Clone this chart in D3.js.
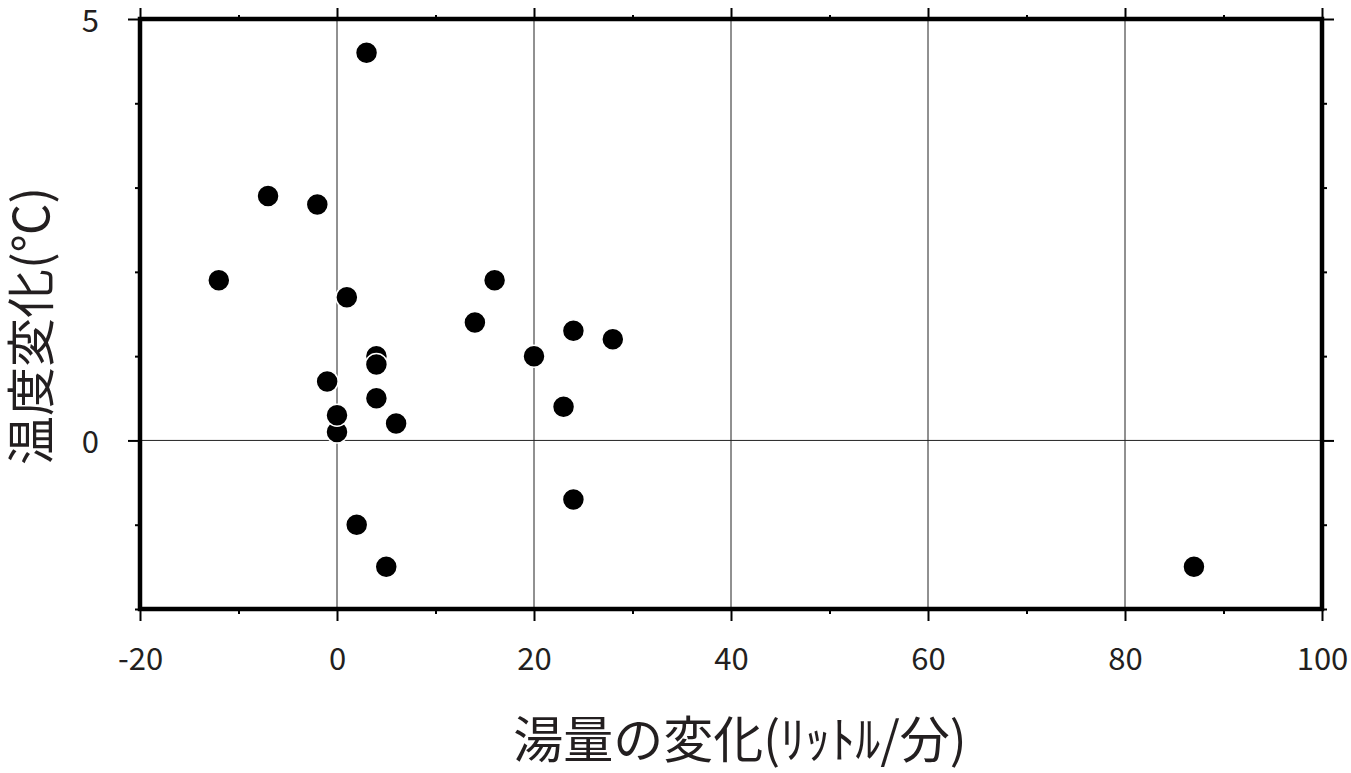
<!DOCTYPE html>
<html><head><meta charset="utf-8">
<script src="https://cdn.jsdelivr.net/npm/d3@7"></script>
<style>
html,body{margin:0;padding:0;background:#fff;}
svg text{font-family:"Noto Sans CJK JP","Noto Sans",sans-serif;fill:#231f20;}
</style>
</head><body>
<svg id="c" width="1351" height="773"></svg>
<script>
// data: flow change (L/min) vs temperature change (°C)
const flowChange = [3, -7, -2, -12, 1, 16, 14, 24, 28, 20, 4, 4, -1, 4, 0, 0, 6, 23, 24, 2, 5, 87];
const tempChange = [4.6, 2.9, 2.8, 1.9, 1.7, 1.9, 1.4, 1.3, 1.2, 1.0, 1.0, 0.9, 0.7, 0.5, 0.1, 0.3, 0.2, 0.4, -0.7, -1.0, -1.5, -1.5];
const xMajorTicks = [-20, 0, 20, 40, 60, 80, 100];
const xMinorTicks = [-10, 10, 30, 50, 70, 90];
const yMajorTicks = [0, 5];
const yMinorTicks = [-2, -1, 1, 2, 3, 4];
const xTitle = "湯量の変化(ﾘｯﾄﾙ/分)";
const yTitle = "温度変化(℃)";

const svg = d3.select("#c");
const L = 140, R = 1322, T = 19, B = 609;
const x = d3.scaleLinear().domain([-20, 100]).range([L, R]);
const y = d3.scaleLinear().domain([-2, 5]).range([B, T]);

// gridlines
const g = svg.append("g");
g.selectAll("line.gx").data(xMajorTicks.filter(v => v > -20 && v < 100)).join("line")
  .attr("x1", d => x(d)).attr("x2", d => x(d)).attr("y1", T).attr("y2", B)
  .attr("stroke", "#222").attr("stroke-width", 1);
g.selectAll("line.gy").data(yMajorTicks.filter(v => v > -2 && v < 5)).join("line")
  .attr("x1", L).attr("x2", R).attr("y1", d => y(d)).attr("y2", d => y(d))
  .attr("stroke", "#222").attr("stroke-width", 1);

function styleAxis(sel) {
  sel.select(".domain").remove();
  sel.selectAll(".tick line").attr("stroke", "#000").attr("stroke-width", 2);
}
const fmt = d => String(d); // plain hyphen-minus as in the reference
svg.append("g").attr("transform", `translate(0,${B})`)
  .call(d3.axisBottom(x).tickValues(xMajorTicks).tickSize(12).tickPadding(27).tickFormat(fmt))
  .call(styleAxis)
  .call(s => s.selectAll("text").attr("font-size", 31).attr("fill", "#231f20"));
svg.append("g").attr("transform", `translate(0,${B})`)
  .call(d3.axisBottom(x).tickValues(xMinorTicks).tickSize(5).tickFormat(""))
  .call(styleAxis);
svg.append("g").attr("transform", `translate(0,${T})`)
  .call(d3.axisTop(x).tickValues(xMajorTicks).tickSize(11).tickFormat(""))
  .call(styleAxis);
svg.append("g").attr("transform", `translate(0,${T})`)
  .call(d3.axisTop(x).tickValues(xMinorTicks).tickSize(4).tickFormat(""))
  .call(styleAxis);
svg.append("g").attr("transform", `translate(${L},0)`)
  .call(d3.axisLeft(y).tickValues(yMajorTicks).tickSize(12).tickPadding(29).tickFormat(fmt))
  .call(styleAxis)
  .call(s => s.selectAll("text").attr("font-size", 31).attr("dy", "0.4em").attr("fill", "#231f20"));
svg.append("g").attr("transform", `translate(${L},0)`)
  .call(d3.axisLeft(y).tickValues(yMinorTicks).tickSize(5).tickFormat(""))
  .call(styleAxis);
svg.append("g").attr("transform", `translate(${R},0)`)
  .call(d3.axisRight(y).tickValues(yMajorTicks).tickSize(12).tickFormat(""))
  .call(styleAxis);
svg.append("g").attr("transform", `translate(${R},0)`)
  .call(d3.axisRight(y).tickValues(yMinorTicks).tickSize(5).tickFormat(""))
  .call(styleAxis);

// points
const pts = flowChange.map((v, i) => ({x: v, y: tempChange[i]}));
svg.append("g").selectAll("circle").data(pts).join("circle")
  .attr("cx", d => x(d.x)).attr("cy", d => y(d.y)).attr("r", 11)
  .attr("fill", "#000").attr("stroke", "#fff").attr("stroke-width", 1.5);

// frame
svg.append("rect").attr("x", L).attr("y", T).attr("width", R - L).attr("height", B - T)
  .attr("fill", "none").attr("stroke", "#000").attr("stroke-width", 4.5);

// titles
svg.append("text").attr("x", 740).attr("y", 758)
  .attr("text-anchor", "middle").attr("font-size", 50).text(xTitle);
svg.append("text").attr("transform", `translate(49,326) rotate(-90)`)
  .attr("text-anchor", "middle").attr("font-size", 49).text(yTitle);
</script>
</body></html>
